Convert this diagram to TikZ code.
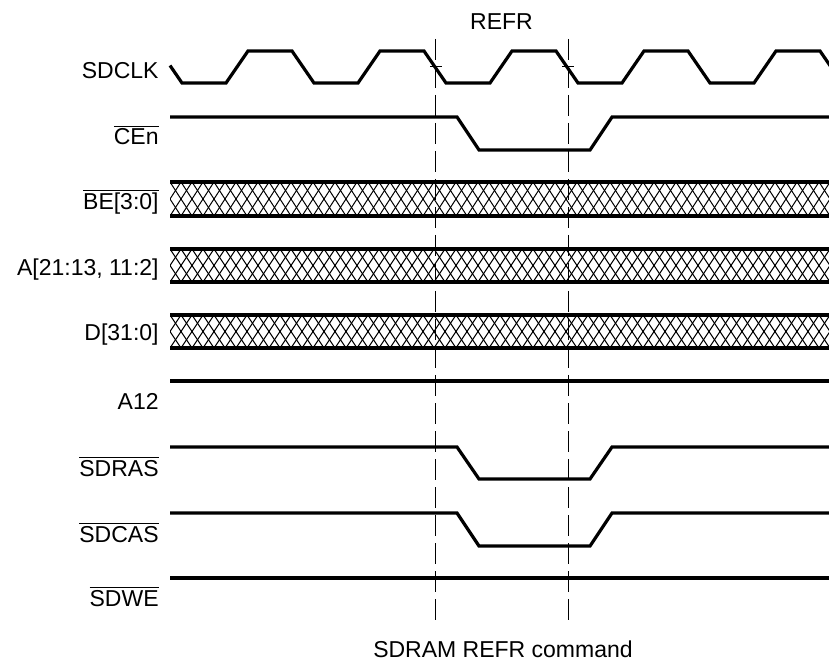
\documentclass[tikz,border=0pt]{standalone}
\usepackage{fontspec}
\setmainfont{Liberation Sans}

\newcommand{\ovl}[1]{$\overline{\hbox{#1}}$}

\begin{document}
\begin{tikzpicture}[
  x=0.5pt, y=-0.5pt,
  font=\fontsize{11.5}{13}\selectfont,
  sig/.style={line width=1.6pt, line join=miter},
  bus/.style={line width=1.6pt},
  hatch/.style={line width=0.5pt},
  marker/.style={line width=0.5pt, dash pattern=on 10.5pt off 3.5pt},
  tick/.style={line width=0.5pt},
  siglabel/.style={anchor=base east, inner sep=0pt},
  caption/.style={anchor=base, inner sep=0pt}
]
\useasboundingbox (0,0) rectangle (829,662);

% signal names
\node[siglabel] (lclk) at (159,79) {SDCLK};
\node[siglabel] (lcen) at (159,145) {\ovl{CEn}};
\node[siglabel] (lbe) at (159,210) {\ovl{BE[3:0]}};
\node[siglabel] (laddr) at (159,276) {A[21:13, 11:2]};
\node[siglabel] (ldata) at (159,341) {D[31:0]};
\node[siglabel] (la12) at (159,409) {A12};
\node[siglabel] (lras) at (159,476) {\ovl{SDRAS}};
\node[siglabel] (lcas) at (159,542) {\ovl{SDCAS}};
\node[siglabel] (lwe) at (159,606) {\ovl{SDWE}};

\node[caption] (refr) at (501.5,30) {REFR};
\node[caption] (cmd) at (503,657) {SDRAM REFR command};

\begin{scope}
\clip (0,0) rectangle (829,662);
% clock
\draw[sig] (170,65.5) -- (182,83)
  foreach \t in {0,...,4} {
    -- ({226+132*\t},83) -- ({248+132*\t},51)
    -- ({292+132*\t},51) -- ({314+132*\t},83)
  };

% control lines
\draw[sig] (170,117) -- (457,117) -- (479,150) -- (590,150) -- (612,117) -- (829,117);
\draw[sig] (170,381) -- (829,381);
\draw[sig] (170,447) -- (457,447) -- (479,479) -- (590,479) -- (612,447) -- (829,447);
\draw[sig] (170,513) -- (457,513) -- (479,546) -- (590,546) -- (612,513) -- (829,513);
\draw[sig] (170,578) -- (829,578);

% buses, don't care
\foreach \top/\bot in {182/216, 249/282, 315/348} {
  \begin{scope}
    \clip (170,\top) rectangle (829,\bot);
    \foreach \k in {-2,...,60}
      \draw[hatch] ({170+11*\k},\top) -- ({192+11*\k},\bot)
                   ({192+11*\k},\top) -- ({170+11*\k},\bot);
  \end{scope}
  \draw[bus] (170,\top) -- (829,\top) (170,\bot) -- (829,\bot);
}
\end{scope}

% refresh window
\draw[marker] (435,39) -- (435,622);
\draw[marker] (568,39) -- (568,622);
\draw[tick] (430,67) -- (442,67);
\draw[tick] (562,67) -- (574,67);
\end{tikzpicture}
\end{document}
